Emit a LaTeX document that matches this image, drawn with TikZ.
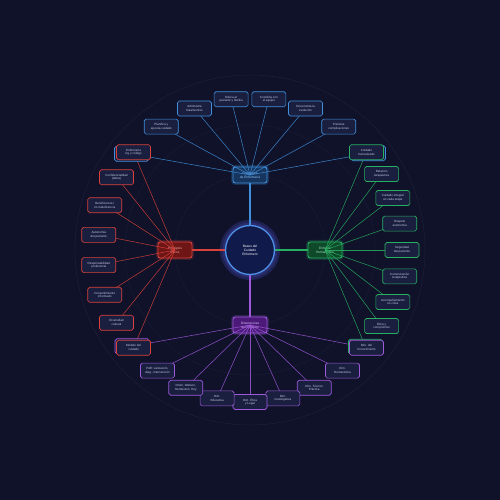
\documentclass[tikz,border=0pt]{standalone}
\usepackage{fontspec}
\setmainfont{Liberation Sans}
\pgfdeclarelayer{bg}
\pgfdeclarelayer{lines}
\pgfsetlayers{bg,lines,main}
\definecolor{bgc}{HTML}{0F1229}
\definecolor{leaffill}{HTML}{1A1F3F}
\definecolor{leaftext}{HTML}{C5CBE2}
\definecolor{ringc}{HTML}{211E38}
\definecolor{ringd}{HTML}{171B36}
\definecolor{cb}{HTML}{3F8FDC}
\definecolor{cr}{HTML}{D9413A}
\definecolor{cg}{HTML}{28B062}
\definecolor{cp}{HTML}{9E58DC}
\definecolor{hubb}{HTML}{163660}
\definecolor{hubr}{HTML}{6E1515}
\definecolor{hubg}{HTML}{0E4A2A}
\definecolor{hubp}{HTML}{4B1A78}
\definecolor{hubbt}{HTML}{9CC8F5}
\definecolor{hubrt}{HTML}{F5B5B0}
\definecolor{hubgt}{HTML}{A8E8C0}
\definecolor{hubpt}{HTML}{DCC0F8}
\definecolor{ctrfill}{HTML}{111B4B}
\definecolor{ctrline}{HTML}{4F90E8}
\definecolor{glowa}{HTML}{23265E}
\definecolor{glowb}{HTML}{2C3178}
\begin{document}
\begin{tikzpicture}[x=1pt,y=1pt,
  leaf/.style={draw=#1, fill=leaffill, line width=0.65pt, rounded corners=1.8pt,
    minimum width=34pt, minimum height=15pt, inner sep=0pt, align=center,
    font=\fontsize{3.0}{3.6}\selectfont, text=leaftext},
  hub/.style={draw=#1, line width=0.9pt, rounded corners=2.5pt,
    minimum width=34pt, minimum height=16pt, inner sep=0pt, align=center,
    font=\fontsize{3.2}{3.8}\selectfont},
  hubglow/.style={draw=#1, line width=3pt, opacity=0.22, rounded corners=3pt,
    minimum width=35pt, minimum height=17pt},
  conn/.style={draw=#1, line width=0.55pt, opacity=0.85},
  spoke/.style={draw=#1, line width=1.1pt},
  ring/.style={draw=ringc, line width=0.5pt},
  ringfaint/.style={draw=ringd, line width=0.5pt}
]
\begin{pgfonlayer}{bg}
  \fill[bgc] (-250,-250) rectangle (250,250);
  \draw[ring] (0,0) circle (175);
  \draw[ringfaint] (0,0) circle (125);
  \draw[ringfaint] (0,0) circle (75);
  \fill[glowa, opacity=0.8] (0,0) circle (30);
  \fill[glowb, opacity=0.8] (0,0) circle (27.5);
  % hub glows
  \node[hubglow=cb] (gb) at (0,75) {};
  \node[hubglow=cr] (gr) at (-75,0) {};
  \node[hubglow=cg] (gg) at (75,0) {};
  \node[hubglow=cp] (gp) at (0,-75) {};
  % hubs
  \node[hub=cb, fill=hubb, text=hubbt] (hb) at (0,75) {Funciones\\de Enfermería};
  \node[hub=cr, fill=hubr, text=hubrt] (hr) at (-75,0) {Principios\\Éticos};
  \node[hub=cg, fill=hubg, text=hubgt] (hg) at (75,0) {Enfoque\\Humanístico};
  \node[hub=cp, fill=hubp, text=hubpt] (hp) at (0,-75) {Dimensiones\\del Cuidado};
\end{pgfonlayer}

% centre
\node[circle, minimum size=49pt, inner sep=0pt, fill=ctrfill, draw=ctrline,
  line width=1.3pt, align=center, text=white,
  font=\fontsize{3.3}{4.0}\selectfont] (ctr) at (0,0) {Bases del\\Cuidado\\Enfermero};

% blue leaves (top)
\node[leaf=cb, xshift=-2pt, yshift=-1.5pt] (b1) at (140:152) {};
\foreach \a/\t [count=\i from 2] in {
  125.71/{Planifica y\\ejecuta cuidado},
  111.43/{Administra\\tratamientos},
  97.14/{Educa al\\paciente y familia},
  82.86/{Coordina con\\el equipo},
  68.57/{Documenta la\\evolución},
  54.29/{Previene\\complicaciones}}
  {\node[leaf=cb] (b\i) at (\a:152) {\t};}
\node[leaf=cb, xshift=2pt, yshift=-1pt] (b8) at (40:152) {};

% green leaves (right)
\foreach \a/\t [count=\i] in {
  40/{Cuidado\\humanizado},
  30/{Relación\\terapéutica},
  20/{Cuidado integral\\en cada etapa},
  10/{Respeto\\autonomía},
  0/{Seguridad\\del paciente},
  -10/{Comunicación\\terapéutica},
  -20/{Acompañamiento\\en crisis},
  -30/{Ética y\\compromiso}}
  {\node[leaf=cg] (g\i) at (\a:152) {\t};}
\node[leaf=cg, xshift=-1pt, yshift=1pt] (g9) at (-40:152) {};

% purple leaves (bottom)
\node[leaf=cp, xshift=-1.5pt, yshift=1.5pt] (p9) at (-140:152) {};
\foreach \a/\t [count=\i] in {
  -40/{Dim. del\\Conocimiento},
  -52.5/{Dim.\\Humanística},
  -65/{Dim. Técnico\\Práctica},
  -77.5/{Dim.\\Investigativa},
  -90/{Dim. Ética\\y Legal},
  -102.5/{Dim.\\Educativa},
  -115/{Orem, Watson,\\Henderson, Roy},
  -127.5/{PAE: valoración,\\diag., intervención}}
  {\node[leaf=cp] (p\i) at (\a:152) {\t};}

% red leaves (left)
\foreach \a/\t [count=\i] in {
  140/{Enfermería\\ley y código},
  151.43/{Confidencialidad\\(datos)},
  162.86/{Beneficencia /\\no maleficencia},
  174.29/{Autonomía\\del paciente},
  185.71/{Responsabilidad\\profesional},
  197.14/{Consentimiento\\informado},
  208.57/{Diversidad\\cultural},
  220/{Modelo del\\cuidado}}
  {\node[leaf=cr] (r\i) at (\a:152) {\t};}

\begin{pgfonlayer}{lines}
  \draw[spoke=cb] (ctr) -- (hb);
  \draw[spoke=cr] (ctr) -- (hr);
  \draw[spoke=cg] (ctr) -- (hg);
  \draw[spoke=cp] (ctr) -- (hp);
  \foreach \i in {1,...,8} {\draw[conn=cb] (hb.center) -- (b\i.center);}
  \foreach \i in {1,...,8} {\draw[conn=cr] (hr.center) -- (r\i.center);}
  \foreach \i in {1,...,9} {\draw[conn=cg] (hg.center) -- (g\i.center);}
  \foreach \i in {1,...,9} {\draw[conn=cp] (hp.center) -- (p\i.center);}
\end{pgfonlayer}
\end{tikzpicture}
\end{document}
